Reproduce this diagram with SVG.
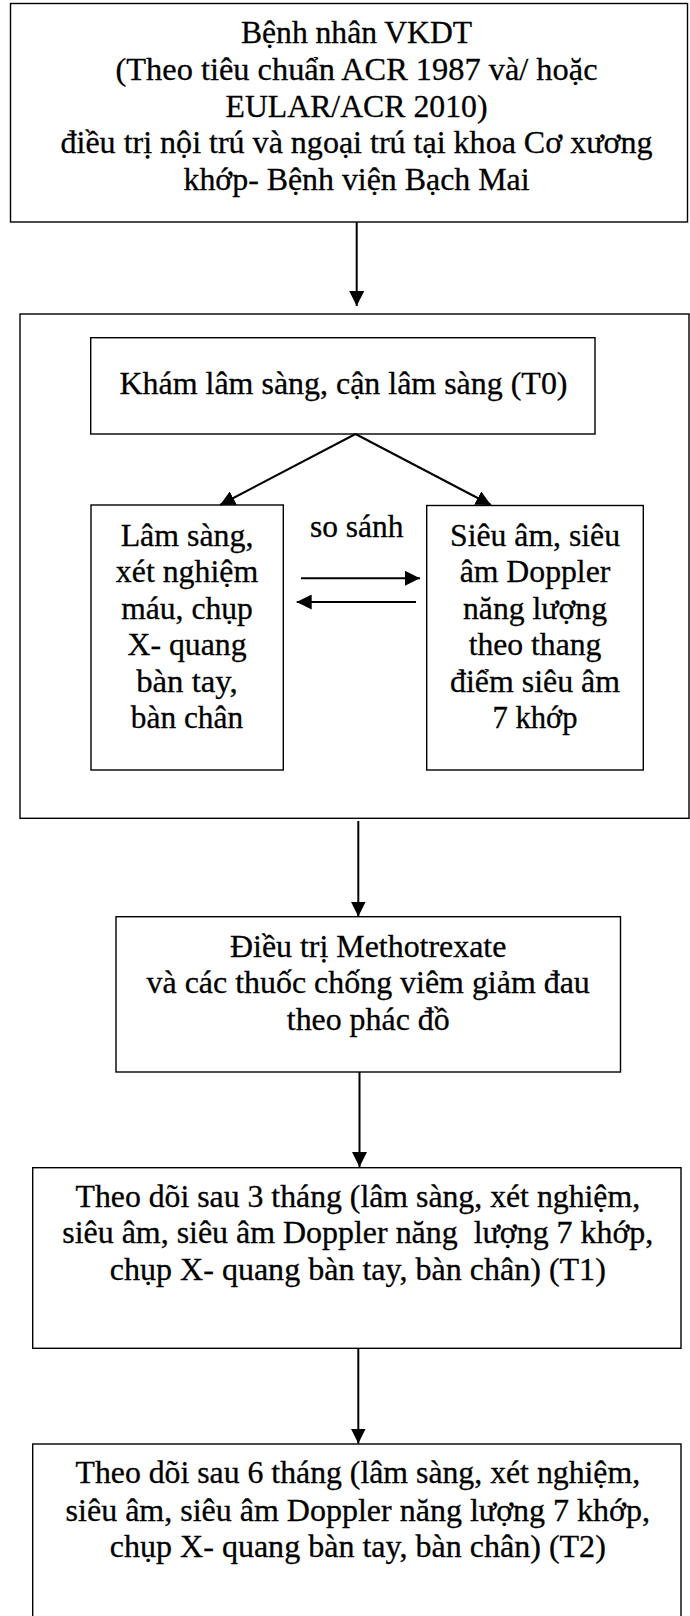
<svg xmlns="http://www.w3.org/2000/svg" width="690" height="1616" viewBox="0 0 690 1616">
<defs>
<style>
.box{fill:#fff;stroke:#000;stroke-width:1.4}
.frame{fill:none;stroke:#000;stroke-width:1.4}
.t{font-family:"Liberation Serif","Times New Roman",serif;font-size:32px;fill:#000;stroke:#000;stroke-width:0.3;text-anchor:middle;white-space:pre}
.c{fill:none;stroke:#000;stroke-width:2}
</style>
<marker id="ah" viewBox="0 0 10 10" refX="10" refY="5" markerUnits="userSpaceOnUse" markerWidth="15" markerHeight="15" orient="auto">
<path d="M0,0 L10,5 L0,10 z" fill="#000"/>
</marker>
</defs>
<rect width="690" height="1616" fill="#fff"/>

<g id="n-patient">
<rect class="box" x="10.5" y="3.5" width="677" height="218.5"/>
<text class="t" x="356.5" y="43" textLength="231" lengthAdjust="spacingAndGlyphs">Bệnh nhân VKDT</text>
<text class="t" x="356.5" y="79.75" textLength="482" lengthAdjust="spacingAndGlyphs">(Theo tiêu chuẩn ACR 1987 và/ hoặc</text>
<text class="t" x="356.5" y="116.5" textLength="262" lengthAdjust="spacingAndGlyphs">EULAR/ACR 2010)</text>
<text class="t" x="356.5" y="153.25" textLength="592" lengthAdjust="spacingAndGlyphs">điều trị nội trú và ngoại trú tại khoa Cơ xương</text>
<text class="t" x="356.5" y="190" textLength="346" lengthAdjust="spacingAndGlyphs">khớp- Bệnh viện Bạch Mai</text>
</g>

<g id="n-group">
<rect class="frame" x="20" y="314" width="669" height="504.3"/>
</g>

<g id="n-t0">
<rect class="box" x="90.7" y="337.7" width="504.3" height="96.3"/>
<text class="t" x="343.5" y="394.3" textLength="448" lengthAdjust="spacingAndGlyphs">Khám lâm sàng, cận lâm sàng (T0)</text>
</g>

<g id="n-clinical">
<rect class="box" x="91" y="505" width="192.3" height="265"/>
<text class="t" x="187" y="545.5" textLength="132.7" lengthAdjust="spacingAndGlyphs">Lâm sàng,</text>
<text class="t" x="187" y="582" textLength="142.3" lengthAdjust="spacingAndGlyphs">xét nghiệm</text>
<text class="t" x="187" y="618.5" textLength="131.6" lengthAdjust="spacingAndGlyphs">máu, chụp</text>
<text class="t" x="187" y="655" textLength="119" lengthAdjust="spacingAndGlyphs">X- quang</text>
<text class="t" x="187" y="691.5" textLength="101.6" lengthAdjust="spacingAndGlyphs">bàn tay,</text>
<text class="t" x="187" y="728" textLength="112.3" lengthAdjust="spacingAndGlyphs">bàn chân</text>
</g>

<g id="n-compare">
<text class="t" x="356.7" y="537" textLength="93.3" lengthAdjust="spacingAndGlyphs">so sánh</text>
</g>

<g id="n-ultrasound">
<rect class="box" x="426.7" y="505.5" width="216.6" height="264.5"/>
<text class="t" x="535" y="545.5" textLength="170" lengthAdjust="spacingAndGlyphs">Siêu âm, siêu</text>
<text class="t" x="535" y="582" textLength="150.7" lengthAdjust="spacingAndGlyphs">âm Doppler</text>
<text class="t" x="535" y="618.5" textLength="144" lengthAdjust="spacingAndGlyphs">năng lượng</text>
<text class="t" x="535" y="655" textLength="132.7" lengthAdjust="spacingAndGlyphs">theo thang</text>
<text class="t" x="535" y="691.5" textLength="170" lengthAdjust="spacingAndGlyphs">điểm siêu âm</text>
<text class="t" x="535" y="728" textLength="85" lengthAdjust="spacingAndGlyphs">7 khớp</text>
</g>

<g id="n-treatment">
<rect class="box" x="116" y="916.7" width="504.5" height="155.3"/>
<text class="t" x="368.2" y="956.7" textLength="276.3" lengthAdjust="spacingAndGlyphs">Điều trị Methotrexate</text>
<text class="t" x="368.2" y="993.3" textLength="443.2" lengthAdjust="spacingAndGlyphs">và các thuốc chống viêm giảm đau</text>
<text class="t" x="368.2" y="1030" textLength="162.8" lengthAdjust="spacingAndGlyphs">theo phác đồ</text>
</g>

<g id="n-t1">
<rect class="box" x="32.7" y="1167.7" width="648.3" height="180.6"/>
<text class="t" x="357.8" y="1206.7" textLength="564.6" lengthAdjust="spacingAndGlyphs">Theo dõi sau 3 tháng (lâm sàng, xét nghiệm,</text>
<text class="t" x="357.8" y="1243.3" textLength="591" lengthAdjust="spacingAndGlyphs">siêu âm, siêu âm Doppler năng  lượng 7 khớp,</text>
<text class="t" x="357.8" y="1280" textLength="496" lengthAdjust="spacingAndGlyphs">chụp X- quang bàn tay, bàn chân) (T1)</text>
</g>

<g id="n-t2">
<rect class="box" x="32.7" y="1444" width="648.3" height="200"/>
<text class="t" x="357.8" y="1483.3" textLength="564.6" lengthAdjust="spacingAndGlyphs">Theo dõi sau 6 tháng (lâm sàng, xét nghiệm,</text>
<text class="t" x="357.8" y="1520.7" textLength="584.4" lengthAdjust="spacingAndGlyphs">siêu âm, siêu âm Doppler năng lượng 7 khớp,</text>
<text class="t" x="357.8" y="1556.7" textLength="496" lengthAdjust="spacingAndGlyphs">chụp X- quang bàn tay, bàn chân) (T2)</text>
</g>

<g id="connectors">
<line class="c" x1="356.7" y1="222" x2="356.7" y2="306" marker-end="url(#ah)"/>
<line class="c" x1="355.5" y1="434" x2="220" y2="505" marker-end="url(#ah)"/>
<line class="c" x1="355.5" y1="434" x2="491" y2="505" marker-end="url(#ah)"/>
<line class="c" x1="301" y1="578.3" x2="420" y2="578.3" marker-end="url(#ah)"/>
<line class="c" x1="416" y1="602" x2="296.7" y2="602" marker-end="url(#ah)"/>
<line class="c" x1="358.3" y1="821" x2="358.3" y2="916.5" marker-end="url(#ah)"/>
<line class="c" x1="359.5" y1="1072" x2="359.5" y2="1167" marker-end="url(#ah)"/>
<line class="c" x1="358.3" y1="1348.3" x2="358.3" y2="1443.5" marker-end="url(#ah)"/>
</g>
</svg>
